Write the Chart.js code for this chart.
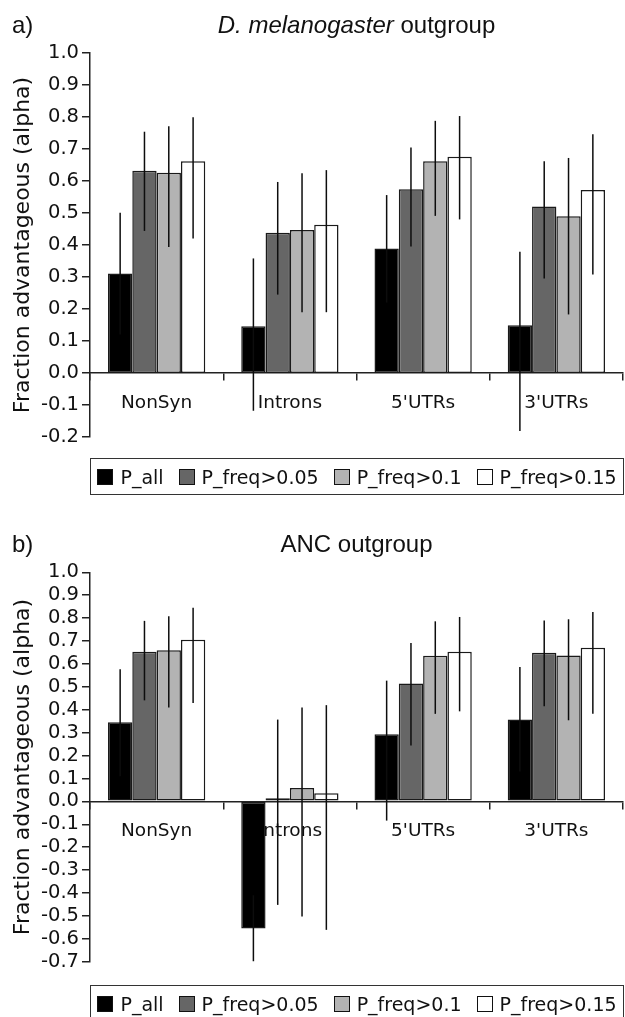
<!DOCTYPE html>
<html lang="en">
<head>
  <meta charset="UTF-8">
  <meta name="viewport" content="width=device-width, initial-scale=1.0">
  <script src="https://cdn.jsdelivr.net/npm/chart.js@4.4.1/dist/chart.umd.min.js" charset="utf-8"></script>
  <title>Fraction advantageous (alpha)</title>
  <style>
    html, body { margin: 0; padding: 0; background: #fff; overflow: hidden; }
    .panel { position: relative; width: 625px; }
    .panel canvas { display: block; }
    .legend {
      position: absolute; box-sizing: border-box; height: 37px;
      border: 1.5px solid #333; display: flex; align-items: center; justify-content: center;
      font: 19px "DejaVu Sans"; color: #111; white-space: nowrap;
    }
    .legend .item { display: flex; align-items: center; margin: 0 7.5px; }
    .legend .sw { width: 16px; height: 16px; box-sizing: border-box; border: 1.5px solid #111; margin-right: 7px; }
  </style>
</head>
<body>
  <div class="panel" style="height:500px">
    <canvas id="chartA" width="625" height="500"></canvas>
    <div class="legend" id="legendA"></div>
  </div>
  <div class="panel" style="height:517px">
    <canvas id="chartB" width="625" height="517"></canvas>
    <div class="legend" id="legendB"></div>
  </div>
  <script type="text/javascript">
    const categories = ['NonSyn', 'Introns', "5'UTRs", "3'UTRs"]
    const seriesLabels = ['P_all', 'P_freq>0.05', 'P_freq>0.1', 'P_freq>0.15']
    const seriesColors = ['#000000', '#666666', '#b3b3b3', '#ffffff']

    // a) D. melanogaster outgroup - one row per series, one column per category
    const melValues = [
      [0.311, 0.146, 0.389, 0.149],
      [0.632, 0.438, 0.574, 0.520],
      [0.626, 0.447, 0.662, 0.490],
      [0.662, 0.463, 0.676, 0.572]
    ]
    const melLow = [
      [0.12, -0.118, 0.22, -0.181],
      [0.444, 0.245, 0.395, 0.295],
      [0.394, 0.190, 0.491, 0.183],
      [0.420, 0.190, 0.480, 0.308]
    ]
    const melHigh = [
      [0.501, 0.358, 0.556, 0.379],
      [0.754, 0.597, 0.705, 0.662],
      [0.771, 0.624, 0.788, 0.672],
      [0.799, 0.634, 0.803, 0.746]
    ]
    const melRange = [-0.2, 1.0]

    // b) ANC outgroup
    const ancValues = [
      [0.345, -0.555, 0.293, 0.357],
      [0.653, 0.014, 0.514, 0.649],
      [0.660, 0.058, 0.636, 0.637],
      [0.705, 0.035, 0.653, 0.671]
    ]
    const ancLow = [
      [0.11, -0.698, -0.084, 0.13],
      [0.441, -0.452, 0.244, 0.415],
      [0.410, -0.503, 0.382, 0.354],
      [0.429, -0.561, 0.393, 0.382]
    ]
    const ancHigh = [
      [0.577, -0.41, 0.527, 0.587],
      [0.788, 0.357, 0.691, 0.790],
      [0.808, 0.410, 0.786, 0.795],
      [0.845, 0.420, 0.805, 0.827]
    ]
    const ancRange = [-0.7, 1.0]

    Chart.defaults.font.family = 'DejaVu Sans'
    Chart.defaults.color = '#111'

    // vertical error lines through the middle of each bar
    const errorBars = {
      id: 'errorBars',
      afterDatasetsDraw(chart) {
        const { ctx } = chart
        const y = chart.scales.y
        ctx.save()
        ctx.strokeStyle = '#0d0d0d'
        ctx.lineWidth = 1.5
        chart.data.datasets.forEach((ds, i) => {
          chart.getDatasetMeta(i).data.forEach((bar, j) => {
            ctx.beginPath()
            ctx.moveTo(bar.x, y.getPixelForValue(ds.errLow[j]))
            ctx.lineTo(bar.x, y.getPixelForValue(ds.errHigh[j]))
            ctx.stroke()
          })
        })
        ctx.restore()
      }
    }

    // panel tag + title, italic parts allowed
    const panelTitle = {
      id: 'panelTitle',
      afterDraw(chart, args, opts) {
        const { ctx, chartArea } = chart
        const base = chartArea.top - 20.5
        ctx.save()
        ctx.fillStyle = '#111'
        ctx.textBaseline = 'alphabetic'
        ctx.textAlign = 'left'
        ctx.font = '24px "Liberation Sans"'
        ctx.fillText(opts.tag, 12, base)
        const fonts = opts.parts.map(p => (p.italic ? 'italic ' : '') + '24px "Liberation Sans"')
        const widths = opts.parts.map((p, k) => {
          ctx.font = fonts[k]
          return ctx.measureText(p.text).width
        })
        let x = (chartArea.left + chartArea.right) / 2 - widths.reduce((a, b) => a + b, 0) / 2
        opts.parts.forEach((p, k) => {
          ctx.font = fonts[k]
          ctx.fillText(p.text, x, base)
          x += widths[k]
        })
        ctx.restore()
      }
    }

    // boxed legend under the plot, built from the datasets
    const htmlLegend = {
      id: 'htmlLegend',
      afterUpdate(chart, args, opts) {
        const box = document.getElementById(opts.containerID)
        const area = chart.chartArea
        box.style.left = area.left + 'px'
        box.style.width = (area.right - area.left + 1) + 'px'
        box.style.top = (area.bottom + opts.gap) + 'px'
        box.innerHTML = ''
        chart.data.datasets.forEach(ds => {
          const item = document.createElement('span')
          item.className = 'item'
          const sw = document.createElement('span')
          sw.className = 'sw'
          sw.style.background = ds.backgroundColor
          item.appendChild(sw)
          item.appendChild(document.createTextNode(ds.label))
          box.appendChild(item)
        })
      }
    }

    function makeChart(id, values, low, high, range, title, legendId, gap, padding) {
      return new Chart(document.getElementById(id), {
        type: 'bar',
        data: {
          labels: categories,
          datasets: seriesLabels.map((label, i) => ({
            label: label,
            data: values[i],
            errLow: low[i],
            errHigh: high[i],
            backgroundColor: seriesColors[i],
            borderColor: '#1a1a1a',
            borderWidth: 1.5,
            borderSkipped: false,
            categoryPercentage: 0.73,
            barPercentage: 1
          }))
        },
        options: {
          responsive: false,
          animation: false,
          layout: { padding: padding },
          plugins: {
            legend: { display: false },
            tooltip: { enabled: false },
            panelTitle: title,
            htmlLegend: { containerID: legendId, gap: gap }
          },
          scales: {
            x: {
              position: { y: 0 },
              grid: { display: true, drawOnChartArea: false, tickLength: 7, color: '#222', lineWidth: 1.5 },
              border: { display: true, color: '#222', width: 1.5 },
              ticks: { font: { size: 18.5 }, color: '#111', padding: 12 }
            },
            y: {
              min: range[0],
              max: range[1],
              afterFit: scale => { scale.width = 90 },
              grid: { drawOnChartArea: false, tickLength: 8, color: '#222', lineWidth: 1.5 },
              border: { display: true, color: '#222', width: 1.5 },
              ticks: {
                stepSize: 0.1,
                maxTicksLimit: 30,
                autoSkip: false,
                padding: 3,
                color: '#111',
                font: { size: 19.5, lineHeight: 1 },
                callback: v => (Math.abs(v) < 1e-9 ? 0 : v).toFixed(1)
              },
              title: {
                display: true,
                text: 'Fraction advantageous (alpha)',
                color: '#111',
                font: { size: 22 },
                padding: { top: 10, bottom: 0 }
              }
            }
          }
        },
        plugins: [panelTitle, errorBars, htmlLegend]
      })
    }

    makeChart('chartA', melValues, melLow, melHigh, melRange,
      { tag: 'a)', parts: [{ text: 'D. melanogaster', italic: true }, { text: ' outgroup' }] },
      'legendA', 21, { top: 53, right: 2, bottom: 63, left: 0 })

    makeChart('chartB', ancValues, ancLow, ancHigh, ancRange,
      { tag: 'b)', parts: [{ text: 'ANC outgroup' }] },
      'legendB', 23.3, { top: 72.3, right: 2, bottom: 55.3, left: 0 })
  </script>
</body>
</html>
